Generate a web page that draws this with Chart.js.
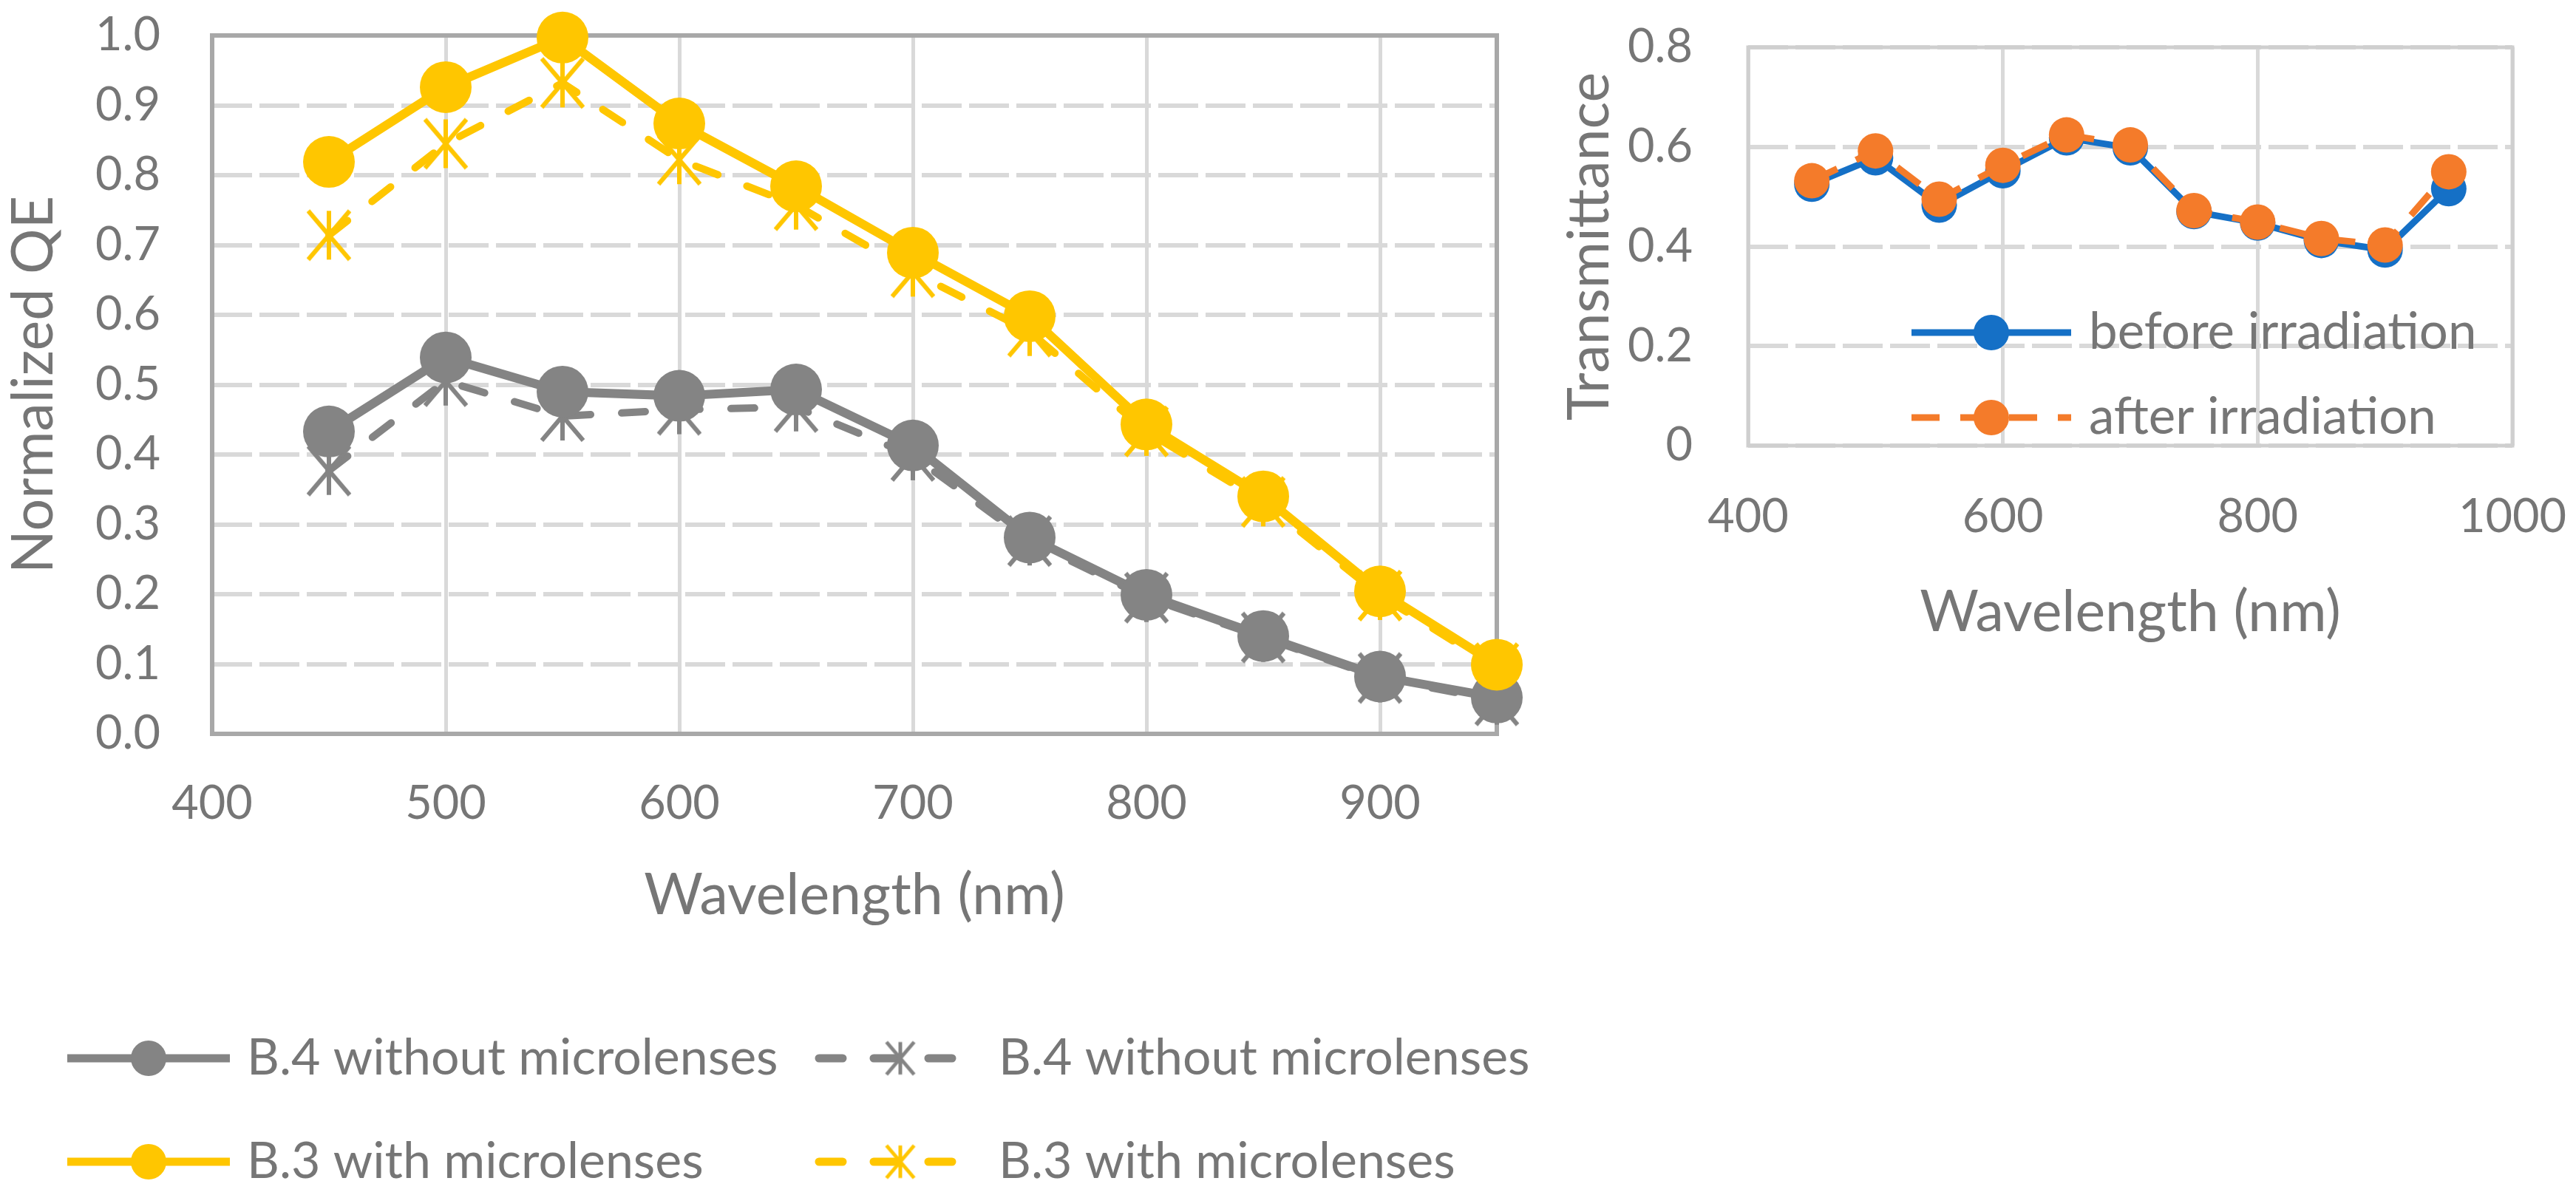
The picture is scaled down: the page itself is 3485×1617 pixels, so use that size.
<!DOCTYPE html>
<html>
<head>
<meta charset="utf-8">
<script src="https://cdn.jsdelivr.net/npm/chart.js@4.4.1/dist/chart.umd.min.js"></script>
<style>
  html, body { margin: 0; padding: 0; background: #ffffff; }
  body { width: 3485px; height: 1617px; position: relative; overflow: hidden; }
  canvas { position: absolute; top: 0; }
  #qe { left: 0; }
  #trans { left: 2100px; }
</style>
</head>
<body>
<canvas id="qe" width="2110" height="1617"></canvas>
<canvas id="trans" width="1385" height="900"></canvas>
<script>
// wavelengths (nm), same for every series
const wavelengths = [450, 500, 550, 600, 650, 700, 750, 800, 850, 900, 950];

// left chart: normalized QE
const b4Solid  = [0.433, 0.539, 0.490, 0.484, 0.493, 0.413, 0.281, 0.199, 0.140, 0.082, 0.052];
const b4Dashed = [0.377, 0.505, 0.455, 0.464, 0.468, 0.398, 0.276, 0.195, 0.138, 0.080, 0.048];
const b3Solid  = [0.819, 0.926, 0.997, 0.874, 0.784, 0.689, 0.598, 0.443, 0.340, 0.204, 0.099];
const b3Dashed = [0.714, 0.845, 0.932, 0.822, 0.757, 0.661, 0.576, 0.433, 0.332, 0.198, 0.094];

// right chart: transmittance
const beforeIrr = [0.525, 0.578, 0.483, 0.552, 0.618, 0.598, 0.470, 0.447, 0.412, 0.393, 0.516];
const afterIrr  = [0.532, 0.592, 0.495, 0.563, 0.624, 0.604, 0.472, 0.449, 0.416, 0.403, 0.550];

const labelB4 = 'B.4 without microlenses';
const labelB3 = 'B.3 with microlenses';

const GREY = '#848484';
const GOLD = '#FFC600';
const BLUE = '#1570C6';
const ORANGE = '#F47B2A';
const TEXT = '#767676';
const GRID = '#d9d9d9';

Chart.defaults.font.family = 'Lato, "Open Sans", sans-serif';
Chart.defaults.color = TEXT;

function pts(values) {
    return wavelengths.map((w, i) => ({ x: w, y: values[i] }));
}

// Excel style asterisk marker: vertical stroke plus an X
function asterisk(color, r, w) {
    const s = Math.ceil(2 * r + w + 4);
    const c = document.createElement('canvas');
    c.width = s; c.height = s;
    const g = c.getContext('2d');
    g.translate(s / 2, s / 2);
    g.strokeStyle = color;
    g.lineWidth = w;
    g.lineCap = 'butt';
    g.beginPath();
    g.moveTo(0, -r); g.lineTo(0, r);
    g.moveTo(-r * 0.85, -r); g.lineTo(r * 0.85, r);
    g.moveTo(r * 0.85, -r); g.lineTo(-r * 0.85, r);
    g.stroke();
    return c;
}

// plot-area frame, under the data
const framePlugin = {
    id: 'plotFrame',
    beforeDatasetsDraw(chart, args, opts) {
        const a = chart.chartArea;
        const ctx = chart.ctx;
        ctx.save();
        ctx.strokeStyle = opts.color;
        ctx.lineWidth = opts.width;
        ctx.strokeRect(a.left, a.top, a.right - a.left, a.bottom - a.top);
        ctx.restore();
    }
};

// legend drawn like Excel: line sample with marker in the middle
const legendPlugin = {
    id: 'sampleLegend',
    afterDraw(chart, args, opts) {
        const ctx = chart.ctx;
        ctx.save();
        opts.items.forEach(it => {
            const ds = chart.data.datasets[it.index];
            ctx.strokeStyle = ds.borderColor;
            ctx.lineWidth = opts.lineWidth;
            ctx.lineCap = ds.borderCapStyle || 'butt';
            ctx.setLineDash(ds.borderDash || []);
            ctx.beginPath();
            ctx.moveTo(it.x, it.y);
            ctx.lineTo(it.x + opts.sampleWidth, it.y);
            ctx.stroke();
            ctx.setLineDash([]);
            ctx.fillStyle = ds.pointBackgroundColor;
            const style = it.marker || ds.pointStyle;
            Chart.helpers.drawPoint(ctx, {
                pointStyle: style,
                radius: opts.markerRadius,
                borderWidth: 0,
                rotation: 0
            }, it.x + opts.sampleWidth / 2, it.y);
            ctx.fillStyle = TEXT;
            ctx.font = opts.fontSize + 'px ' + Chart.defaults.font.family;
            ctx.textBaseline = 'middle';
            ctx.textAlign = 'left';
            ctx.fillText(ds.label, it.x + opts.textGap, it.y);
        });
        ctx.restore();
    }
};

const tickFont = { size: 63 };
const titleFont = { size: 77 };

// keep the plot box exactly where the padding puts it
function fixY(width) {
    return s => { s.width = width; s.paddingTop = 0; s.paddingBottom = 0; };
}
function fixX(height) {
    return s => { s.height = height; s.paddingLeft = 0; s.paddingRight = 0; };
}

// ---- left chart ----
new Chart(document.getElementById('qe'), {
    type: 'line',
    data: {
        datasets: [
            {
                label: labelB4, data: pts(b4Solid), order: 1,
                borderColor: GREY, borderWidth: 12, pointStyle: 'circle',
                pointRadius: 35, pointBackgroundColor: GREY, pointBorderWidth: 0,
                clip: false
            },
            {
                label: labelB4, data: pts(b4Dashed), order: 3,
                borderColor: GREY, borderWidth: 10, borderDash: [32, 42], borderCapStyle: 'round',
                pointStyle: asterisk(GREY, 33, 6), pointBackgroundColor: GREY,
                pointRadius: 33, clip: false
            },
            {
                label: labelB3, data: pts(b3Solid), order: 0,
                borderColor: GOLD, borderWidth: 12, pointStyle: 'circle',
                pointRadius: 35, pointBackgroundColor: GOLD, pointBorderWidth: 0,
                clip: false
            },
            {
                label: labelB3, data: pts(b3Dashed), order: 2,
                borderColor: GOLD, borderWidth: 10, borderDash: [32, 42], borderCapStyle: 'round',
                pointStyle: asterisk(GOLD, 33, 6), pointBackgroundColor: GOLD,
                pointRadius: 33, clip: false
            }
        ]
    },
    options: {
        responsive: false,
        animation: false,
        devicePixelRatio: 1,
        layout: { padding: { top: 48, right: 85, bottom: 359, left: 0 } },
        plugins: {
            legend: { display: false },
            tooltip: { enabled: false },
            plotFrame: { color: '#a8a8a8', width: 6 },
            sampleLegend: {
                lineWidth: 11, sampleWidth: 220, textGap: 243, markerRadius: 24, fontSize: 68,
                items: [
                    { index: 0, x: 91, y: 1432 },
                    { index: 1, x: 1108, y: 1432, marker: asterisk(GREY, 22, 5) },
                    { index: 2, x: 91, y: 1572 },
                    { index: 3, x: 1108, y: 1572, marker: asterisk(GOLD, 22, 5) }
                ]
            }
        },
        scales: {
            x: {
                type: 'linear', min: 400, max: 950,
                ticks: { stepSize: 100, includeBounds: false, padding: 57, font: tickFont, color: TEXT },
                grid: { color: GRID, lineWidth: 5, drawTicks: false },
                border: { display: false },
                title: { display: true, text: 'Wavelength (nm)', font: titleFont, color: TEXT, padding: 0 },
                afterFit: fixX(265)
            },
            y: {
                min: 0, max: 1,
                ticks: { stepSize: 0.1, padding: 70, font: tickFont, color: TEXT,
                         callback: v => v.toFixed(1) },
                grid: { color: GRID, lineWidth: 6, drawTicks: false },
                border: { display: false, dash: [54, 10] },
                title: { display: true, text: 'Normalized QE', font: titleFont, color: TEXT, padding: 0 },
                afterFit: fixY(287)
            }
        }
    },
    plugins: [framePlugin, legendPlugin]
});

// ---- right chart ----
new Chart(document.getElementById('trans'), {
    type: 'line',
    data: {
        datasets: [
            {
                label: 'before irradiation', data: pts(beforeIrr), order: 1,
                borderColor: BLUE, borderWidth: 9, pointStyle: 'circle',
                pointRadius: 24, pointBackgroundColor: BLUE, pointBorderWidth: 0,
                clip: false
            },
            {
                label: 'after irradiation', data: pts(afterIrr), order: 0,
                borderColor: ORANGE, borderWidth: 9, borderDash: [38, 28],
                pointStyle: 'circle', pointRadius: 24, pointBackgroundColor: ORANGE,
                pointBorderWidth: 0, clip: false
            }
        ]
    },
    options: {
        responsive: false,
        animation: false,
        devicePixelRatio: 1,
        layout: { padding: { top: 64, right: 86, bottom: 25, left: 0 } },
        plugins: {
            legend: { display: false },
            tooltip: { enabled: false },
            plotFrame: { color: '#cfcfcf', width: 5 },
            sampleLegend: {
                lineWidth: 9, sampleWidth: 216, textGap: 240, markerRadius: 24, fontSize: 69,
                items: [
                    { index: 0, x: 486, y: 450 },
                    { index: 1, x: 486, y: 565 }
                ]
            }
        },
        scales: {
            x: {
                type: 'linear', min: 400, max: 1000,
                ticks: { stepSize: 200, padding: 59, font: tickFont, color: TEXT,
                         callback: v => String(v) },
                grid: { color: GRID, lineWidth: 5, drawTicks: false },
                border: { display: false },
                title: { display: true, text: 'Wavelength (nm)', font: titleFont, color: TEXT, padding: 0 },
                afterFit: fixX(272)
            },
            y: {
                min: 0, max: 0.8,
                ticks: { stepSize: 0.2, padding: 75, font: tickFont, color: TEXT },
                grid: { color: GRID, lineWidth: 6, drawTicks: false },
                border: { display: false, dash: [54, 10] },
                title: { display: true, text: 'Transmittance', font: titleFont, color: TEXT, padding: { top: 5 } },
                afterFit: fixY(265)
            }
        }
    },
    plugins: [framePlugin, legendPlugin]
});
</script>
</body>
</html>
